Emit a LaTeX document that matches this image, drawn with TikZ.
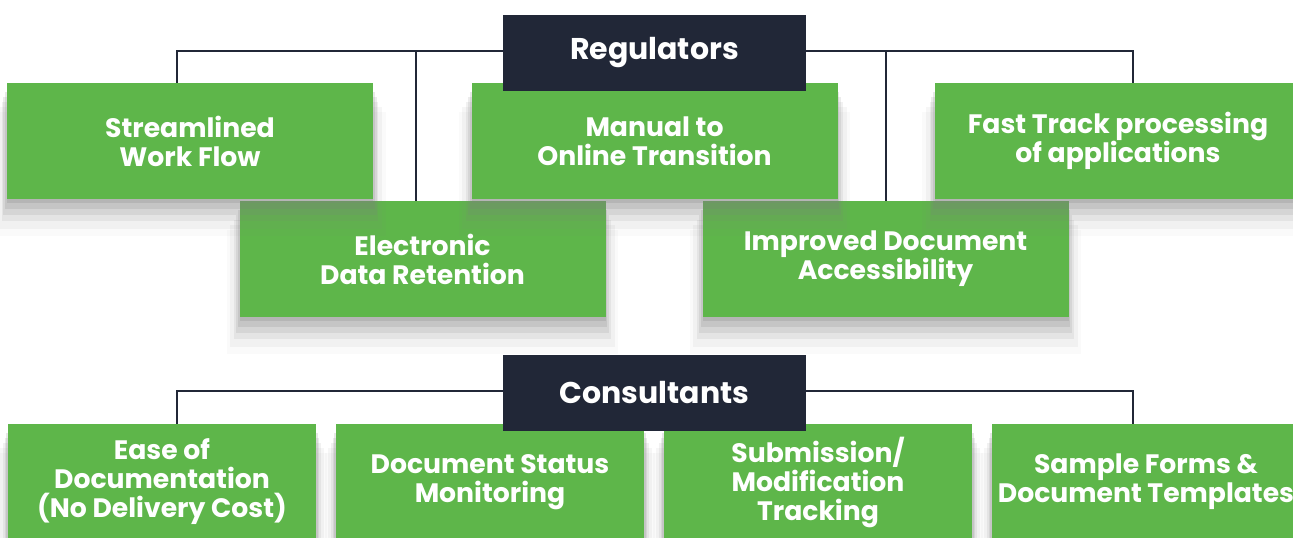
\documentclass[tikz,border=0pt]{standalone}
\usepackage{fontspec}
\setmainfont{Poppins}
\usetikzlibrary{shadows}
\definecolor{leafgreen}{RGB}{94,182,74}
\definecolor{navy}{RGB}{33,39,55}
\tikzset{
  softshadow/.style={
    drop shadow={shadow xshift=0pt,shadow yshift=-3pt,shadow scale=1.00,opacity=.20},
    drop shadow={shadow xshift=0pt,shadow yshift=-7pt,shadow scale=1.01,opacity=.18},
    drop shadow={shadow xshift=0pt,shadow yshift=-11pt,shadow scale=1.02,opacity=.15},
    drop shadow={shadow xshift=0pt,shadow yshift=-15pt,shadow scale=1.03,opacity=.11},
    drop shadow={shadow xshift=0pt,shadow yshift=-19pt,shadow scale=1.05,opacity=.07},
    drop shadow={shadow xshift=0pt,shadow yshift=-23pt,shadow scale=1.07,opacity=.04}},
  greenbox/.style={fill=leafgreen,text=white,align=center,inner sep=0pt,
    minimum width=274.5pt,minimum height=87pt,softshadow,
    font=\bfseries\fontsize{20}{21.75}\selectfont},
  smallbox/.style={greenbox,minimum width=231pt},
  headbox/.style={fill=navy,text=white,inner sep=0pt,
    minimum width=227.25pt,minimum height=57pt,
    font=\bfseries\fontsize{22.5}{25}\selectfont},
  link/.style={draw=navy,line width=2pt}
}
\begin{document}
\begin{tikzpicture}[x=0.75pt,y=-0.75pt]
\fill[white] (0,0) rectangle (1293,537);
\useasboundingbox (0,0) rectangle (1293,537);

\coordinate (d1) at (177,51);
\coordinate (d2) at (416,51);
\coordinate (d3) at (886,51);
\coordinate (d4) at (1133,51);
\coordinate (c1) at (177,391);
\coordinate (c2) at (1133,391);

\node[greenbox] (edr) at (422.5,259) {Electronic\\Data Retention};
\node[greenbox] (ida) at (885.5,259) {Improved Document\\Accessibility};
\node[greenbox] (sw) at (190,141) {Streamlined\\Work Flow};
\node[greenbox] (mot) at (654.5,141) {Manual to\\Online Transition};
\node[greenbox] (ft) at (1118,141) {Fast Track processing\\of applications};

\node[smallbox] (eod) at (162,482) {Ease of\\Documentation\\(No Delivery Cost)};
\node[smallbox] (dsm) at (490,482) {Document Status\\Monitoring};
\node[smallbox] (smt) at (818,482) {Submission/\\Modification\\Tracking};
\node[smallbox] (sft) at (1146,482) {Sample Forms \&\\Document Templates};

\draw[link] (sw.north -| d1) -- (d1) -- (d4) -- (ft.north -| d4);
\draw[link] (edr.north -| d2) -- (d2);
\draw[link] (ida.north -| d3) -- (d3);
\draw[link] (eod.north -| c1) -- (c1) -- (c2) -- (sft.north -| c2);

\node[headbox] (reg) at (654.5,53) {Regulators};
\node[headbox] (con) at (654.5,393) {Consultants};
\end{tikzpicture}
\end{document}
